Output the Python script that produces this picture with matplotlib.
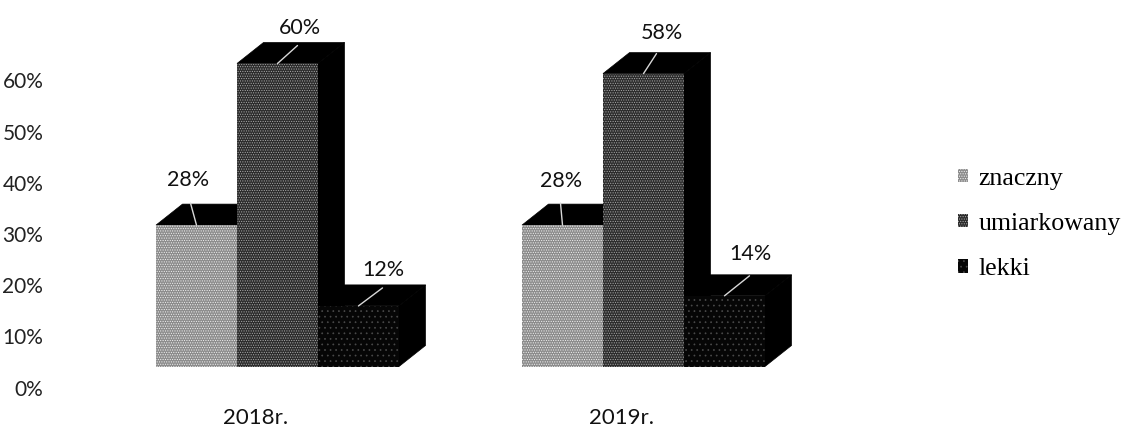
import matplotlib
matplotlib.use('Agg')
import numpy as np
import matplotlib.pyplot as plt
from matplotlib.patches import Polygon, Patch

years = ['2018r.', '2019r.']
series = ['znaczny', 'umiarkowany', 'lekki']
znaczny = [28, 28]
umiarkowany = [60, 58]
lekki = [12, 14]
yticks = [0, 10, 20, 30, 40, 50, 60]
ytick_labels = ['0%', '10%', '20%', '30%', '40%', '50%', '60%']

face = ['#8c8c8c', '#2c2c2c', '#060606']
dots = ['#efefef', '#a8a8a8', '#4a4a4a']
hatches = ['.......', '.......', '...']

W, H = 1124, 428
plt.rcParams['hatch.linewidth'] = 0.5
fig = plt.figure(figsize=(W / 100, H / 100), dpi=100)

# plot area placed in pixels, y=0 is the front floor of the bars
left, right = 94.5, 826.5
floor = 366.5
px_per_pct = 5.05
ymax = floor / px_per_pct
ax = fig.add_axes([left / W, (H - floor) / H, (right - left) / W, floor / H])
ax.set_xlim(-0.5, 1.5)
ax.set_ylim(0, ymax)
ax.axis('off')

px_x = 1.0 / 366
px_y = 1.0 / px_per_pct
bar_w = 81 * px_x
depth_x = 26.5 * px_x
depth_y = 21 * px_y

# label text offset and leader line, pixels from top centre of front face
label_off = [[(-8, 45), (22, 35), (25, 36)], [(-1, 44), (18, 41), (26, 42)]]
lead_start = [[(-6, 22), (20, 18), (24, 18)], [(-2, 22), (13, 20), (25, 20)]]

x = np.arange(len(years))
values = [znaczny, umiarkowany, lekki]
for g in range(len(years)):
    for s in range(len(series)):
        v = values[s][g]
        xl = x[g] + (s - 1.5) * bar_w
        xr = xl + bar_w
        ax.add_patch(Polygon([(xr, 0), (xr + depth_x, depth_y), (xr + depth_x, v + depth_y), (xr, v)],
                             fc='black', ec='black', lw=0.5, zorder=2 + s))
        ax.add_patch(Polygon([(xl, v), (xl + depth_x, v + depth_y), (xr + depth_x, v + depth_y), (xr, v)],
                             fc='black', ec='black', lw=0.5, zorder=2 + s))
        ax.bar(xl, v, width=bar_w, align='edge', color=face[s], edgecolor=dots[s],
               hatch=hatches[s], linewidth=0, zorder=2 + s)
        cx = xl + bar_w / 2
        ax.annotate('', xy=(cx, v), xytext=lead_start[g][s], textcoords='offset pixels',
                    arrowprops=dict(arrowstyle='-', color='#d8d8d8', lw=1, shrinkA=0, shrinkB=0),
                    zorder=10)
        ax.annotate('%d%%' % v, xy=(cx, v), xytext=label_off[g][s], textcoords='offset pixels',
                    ha='center', va='center', fontsize=15.5, family='Lato', color='#111111', zorder=10)

# axis labels sit on a second axes, moved by the 3D depth
tick_scale = 5.12
ax2 = fig.add_axes([(left - 22) / W, (H - floor - 21) / H, (right - left) / W, 380 / H])
ax2.patch.set_alpha(0)
ax2.set_xlim(-0.5, 1.5)
ax2.set_ylim(0, 380 / tick_scale)
for sp in ax2.spines.values():
    sp.set_visible(False)
ax2.set_xticks(x)
ax2.set_xticklabels(years, fontsize=16, family='Lato', color='#111111')
ax2.set_yticks(yticks)
ax2.set_yticklabels(ytick_labels, fontsize=15, family='Lato', color='#222222')
ax2.tick_params(axis='both', length=0)
ax2.tick_params(axis='y', pad=21)
ax2.tick_params(axis='x', pad=15)

handles = [Patch(facecolor=face[i], edgecolor=dots[i], hatch=hatches[i], linewidth=0) for i in range(3)]
fig.legend(handles, series, loc='center left', bbox_to_anchor=(958 / W, 1 - 224 / H), frameon=False,
           prop={'family': 'Liberation Serif', 'size': 18.6}, handlelength=0.4, handleheight=0.4,
           handletextpad=0.38, labelspacing=0.9, borderpad=0, borderaxespad=0)

fig.savefig('out.png', dpi=100)
